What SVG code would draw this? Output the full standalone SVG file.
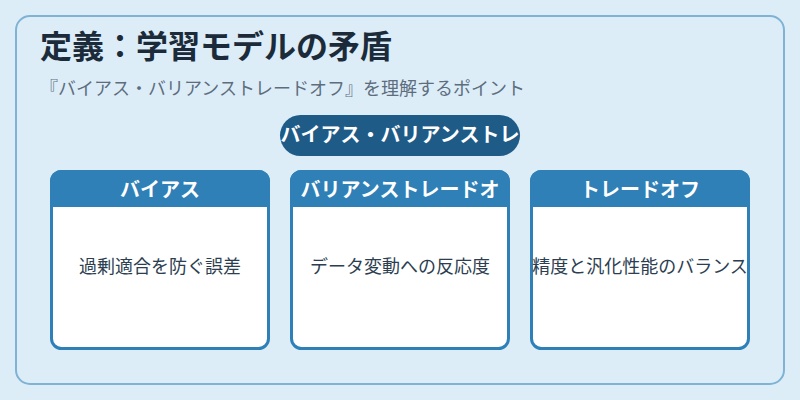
<svg xmlns="http://www.w3.org/2000/svg" width="800" height="400" viewBox="0 0 800 400">
<defs>
<style>
text{font-family:"Noto Sans CJK JP","Noto Sans",sans-serif;}
.title{font-size:32px;font-weight:700;fill:#1b2b3a;}
.sub{font-size:18px;fill:#5d6d7e;}
.pilltxt{font-size:20px;font-weight:700;fill:#ffffff;text-anchor:middle;}
.card{fill:#ffffff;stroke:#2e80b6;stroke-width:3;}
.head{fill:#2e80b6;}
.htxt{font-size:20px;font-weight:700;fill:#ffffff;text-anchor:middle;}
.btxt{font-size:18px;fill:#2c3e50;text-anchor:middle;}
</style>
<clipPath id="pillclip"><rect x="280" y="115" width="240" height="41" rx="20.5"/></clipPath>
</defs>
<rect x="0" y="0" width="800" height="400" fill="#dcedf8"/>
<rect x="16" y="16" width="768" height="368" rx="14" fill="#dcedf8" stroke="#7fb2d4" stroke-width="2"/>
<text class="title" x="40" y="58">定義：学習モデルの矛盾</text>
<text class="sub" x="40" y="95">『バイアス・バリアンストレードオフ』を理解するポイント</text>
<g id="pill">
<rect x="280" y="115" width="240" height="41" rx="20.5" fill="#1f5b87"/>
<text class="pilltxt" x="400" y="142" clip-path="url(#pillclip)">バイアス・バリアンストレ</text>
</g>
<g id="connectors"></g>
<g id="card-bias">
<rect class="card" x="51.5" y="171.5" width="217" height="177" rx="10"/>
<path class="head" d="M50,181.5 a11.5,11.5 0 0 1 11.5,-11.5 h197 a11.5,11.5 0 0 1 11.5,11.5 v25.5 h-220 z"/>
<text class="htxt" x="160" y="197">バイアス</text>
<text class="btxt" x="160" y="273">過剰適合を防ぐ誤差</text>
</g>
<g id="card-variance">
<rect class="card" x="291.5" y="171.5" width="217" height="177" rx="10"/>
<path class="head" d="M290,181.5 a11.5,11.5 0 0 1 11.5,-11.5 h197 a11.5,11.5 0 0 1 11.5,11.5 v25.5 h-220 z"/>
<text class="htxt" x="400" y="197">バリアンストレードオ</text>
<text class="btxt" x="400" y="273">データ変動への反応度</text>
</g>
<g id="card-tradeoff">
<rect class="card" x="531.5" y="171.5" width="217" height="177" rx="10"/>
<path class="head" d="M530,181.5 a11.5,11.5 0 0 1 11.5,-11.5 h197 a11.5,11.5 0 0 1 11.5,11.5 v25.5 h-220 z"/>
<text class="htxt" x="640" y="197">トレードオフ</text>
<text class="btxt" x="640" y="273">精度と汎化性能のバランス</text>
</g>
</svg>
